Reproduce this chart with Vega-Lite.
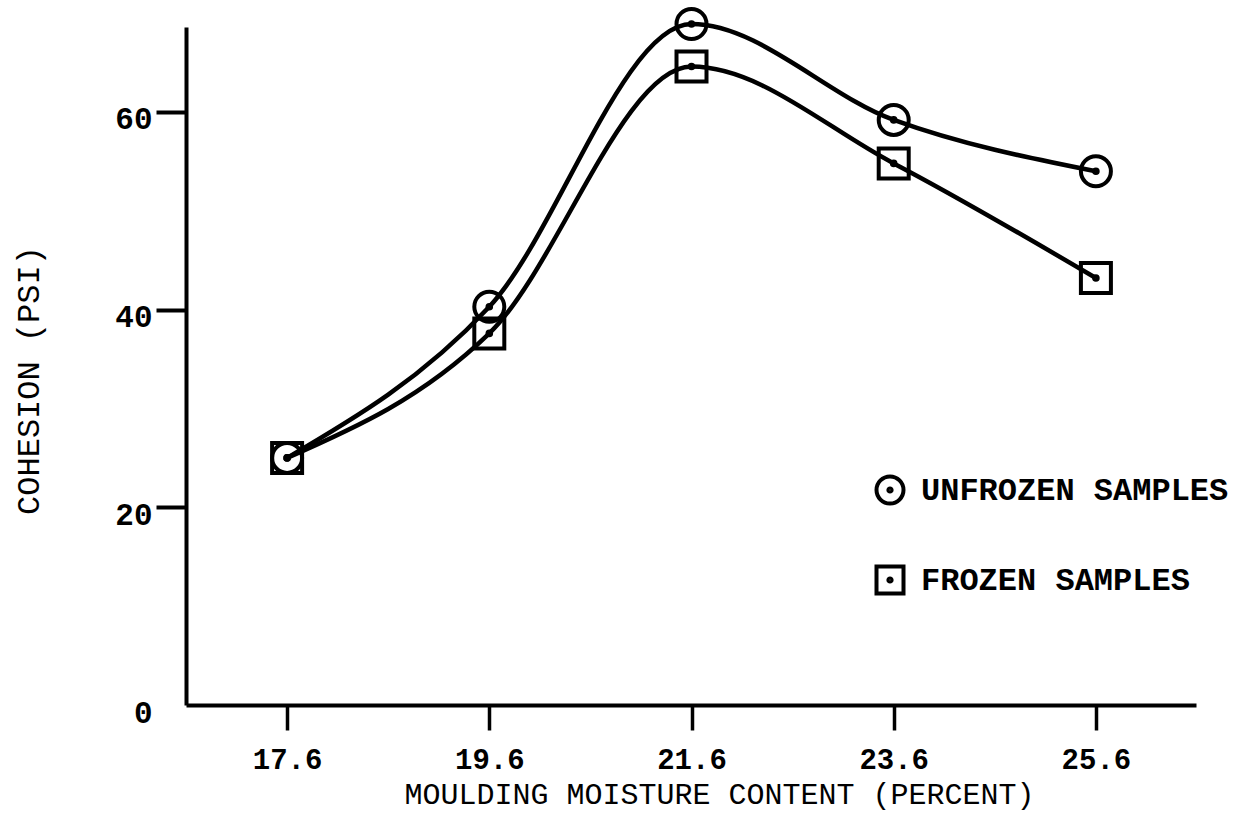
{
  "$schema": "https://vega.github.io/schema/vega-lite/v6.json",
  "autosize": {"type": "none"},
  "width": 1010,
  "height": 678,
  "padding": {"left": 186, "top": 27, "right": 39, "bottom": 109},
  "background": "white",
  "config": {
    "view": {"stroke": null},
    "font": "Liberation Mono"
  },
  "data": {
    "values": [
      {"moisture": 17.6, "cohesion": 25.0, "series": "UNFROZEN SAMPLES"},
      {"moisture": 19.6, "cohesion": 40.3, "series": "UNFROZEN SAMPLES"},
      {"moisture": 21.6, "cohesion": 68.9, "series": "UNFROZEN SAMPLES"},
      {"moisture": 23.6, "cohesion": 59.2, "series": "UNFROZEN SAMPLES"},
      {"moisture": 25.6, "cohesion": 54.0, "series": "UNFROZEN SAMPLES"},
      {"moisture": 17.6, "cohesion": 25.0, "series": "FROZEN SAMPLES"},
      {"moisture": 19.6, "cohesion": 37.6, "series": "FROZEN SAMPLES"},
      {"moisture": 21.6, "cohesion": 64.6, "series": "FROZEN SAMPLES"},
      {"moisture": 23.6, "cohesion": 54.8, "series": "FROZEN SAMPLES"},
      {"moisture": 25.6, "cohesion": 43.2, "series": "FROZEN SAMPLES"}
    ]
  },
  "encoding": {
    "x": {
      "field": "moisture",
      "type": "quantitative",
      "scale": {"domain": [16.6, 26.59], "nice": false, "zero": false},
      "axis": {
        "title": "MOULDING MOISTURE CONTENT (PERCENT)",
        "values": [17.6, 19.6, 21.6, 23.6, 25.6],
        "format": ".1f",
        "grid": false,
        "domainColor": "black",
        "domainWidth": 4,
        "tickColor": "black",
        "tickWidth": 3.5,
        "tickSize": 25,
        "labelFont": "Liberation Mono",
        "labelFontWeight": "bold",
        "labelFontSize": 29,
        "labelColor": "black",
        "labelPadding": 15,
        "titleFont": "Liberation Mono",
        "titleFontWeight": "normal",
        "titleFontSize": 30,
        "titleColor": "black",
        "titlePadding": 5,
        "titleX": 533
      }
    },
    "y": {
      "field": "cohesion",
      "type": "quantitative",
      "scale": {"domain": [0, 68.6], "nice": false},
      "axis": {
        "title": "COHESION (PSI)",
        "values": [0, 20, 40, 60],
        "grid": false,
        "domainColor": "black",
        "domainWidth": 4,
        "tickColor": "black",
        "tickWidth": 4,
        "tickSize": 30,
        "tickOpacity": {"condition": {"test": "datum.value === 0", "value": 0}, "value": 1},
        "labelFont": "Liberation Mono",
        "labelFontWeight": "bold",
        "labelFontSize": 31,
        "labelColor": "black",
        "labelPadding": 4,
        "labelOffset": 8,
        "titleFont": "Liberation Mono",
        "titleFontWeight": "normal",
        "titleFontSize": 32,
        "titleColor": "black",
        "titleAngle": 270,
        "titleBaseline": "middle",
        "titleX": -158,
        "titleY": 353
      }
    }
  },
  "layer": [
    {
      "mark": {"type": "line", "interpolate": "monotone", "color": "black", "strokeWidth": 4.5},
      "encoding": {"detail": {"field": "series"}}
    },
    {
      "mark": {"type": "point", "filled": false, "color": "black", "strokeWidth": 4, "size": 900, "opacity": 1},
      "encoding": {
        "shape": {
          "field": "series",
          "type": "nominal",
          "scale": {
            "domain": ["UNFROZEN SAMPLES", "FROZEN SAMPLES"],
            "range": [
              "M1,0 A1,1 0 1,1 -1,0 A1,1 0 1,1 1,0 Z M0.12,0 A0.12,0.12 0 1,1 -0.12,0 A0.12,0.12 0 1,1 0.12,0 Z",
              "M-1,-1 L1,-1 L1,1 L-1,1 Z M0.12,0 A0.12,0.12 0 1,1 -0.12,0 A0.12,0.12 0 1,1 0.12,0 Z"
            ]
          },
          "legend": {
            "title": null,
            "orient": "none",
            "legendX": 688,
            "legendY": 447,
            "padding": 0,
            "symbolSize": 729,
            "symbolStrokeColor": "black",
            "symbolFillColor": "transparent",
            "symbolStrokeWidth": 4,
            "labelFont": "Liberation Mono",
            "labelFontWeight": "bold",
            "labelFontSize": 32,
            "labelColor": "black",
            "labelOffset": 15,
            "labelLimit": 0,
            "rowPadding": 46
          }
        }
      }
    }
  ]
}
